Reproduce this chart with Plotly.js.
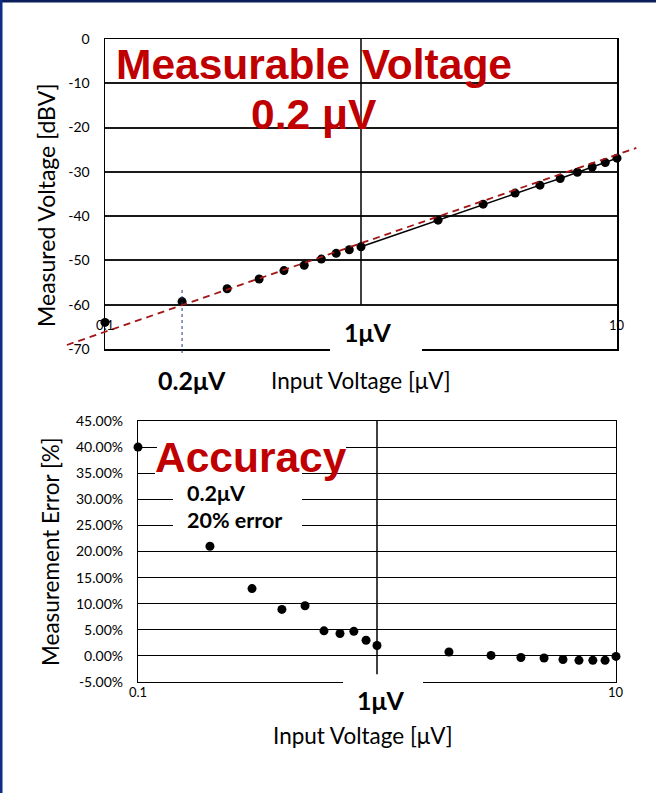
<!DOCTYPE html>
<html>
<head>
<meta charset="utf-8">
<script src="https://cdn.plot.ly/plotly-3.0.1.min.js"></script>
<style>
  html, body { margin: 0; padding: 0; background: #fff; }
  #chart { width: 656px; height: 793px; }
</style>
</head>
<body>
<div id="chart"></div>
<script>
// ---------- data ----------
const inputVoltage = [0.1, 0.2, 0.3, 0.4, 0.5, 0.6, 0.7, 0.8, 0.9, 1, 2, 3, 4, 5, 6, 7, 8, 9, 10];
const measuredDBV = [-64.0, -59.3, -56.4, -54.2, -52.3, -51.1, -49.7, -48.4, -47.6, -46.9,
                     -40.9, -37.3, -34.8, -33.0, -31.5, -30.1, -28.9, -27.9, -26.9];
const errorPct = [40.0, 21.0, 12.9, 8.9, 9.6, 4.8, 4.3, 4.7, 3.0, 2.0,
                  0.75, 0.1, -0.3, -0.4, -0.7, -0.85, -0.85, -0.85, -0.1];
const trendX = [0.071, 11.9];
const trendY = [-69.1, -24.6];
const dbvTicks = [0, -10, -20, -30, -40, -50, -60, -70];
const dbvTickText = ['0', '-10', '-20', '-30', '-40', '-50', '-60', '-70'];
const errTicks = [-5, 0, 5, 10, 15, 20, 25, 30, 35, 40, 45];
const errTickText = ['-5.00%', '0.00%', '5.00%', '10.00%', '15.00%', '20.00%', '25.00%',
                     '30.00%', '35.00%', '40.00%', '45.00%'];
const xTickVals = [0.1, 10];
const xTickText = ['0.1', '10'];

// ---------- geometry helpers ----------
const W = 656, H = 793;
const px = v => v / W;
const py = v => 1 - v / H;
const RED = '#c00000';
const FONT = 'Lato, "Open Sans", sans-serif';
const ARIAL = '"Liberation Sans", Arial, sans-serif';

// top plot area (pixels)
const T = { l: 105, r: 617, t: 39, b: 349 };
// bottom plot area (pixels)
const B = { l: 138, r: 616, t: 421, b: 682 };
const pxPerDecade = (T.r - T.l) / 2;
const pxPerUnit = (T.b - T.t) / 70;

const solidX = inputVoltage.filter(v => v >= 1);
const solidY = measuredDBV.filter((v, i) => inputVoltage[i] >= 1);

const traces = [
  { x: solidX, y: solidY, xaxis: 'x', yaxis: 'y', mode: 'lines',
    line: { color: '#000', width: 1.5 }, hoverinfo: 'skip' },
  { x: inputVoltage, y: measuredDBV, xaxis: 'x', yaxis: 'y', mode: 'markers',
    marker: { color: '#000', size: 9 }, cliponaxis: false },
  { x: trendX, y: trendY, xaxis: 'x3', yaxis: 'y3', mode: 'lines',
    line: { color: '#a31515', width: 1.8, dash: '7px,5px' }, hoverinfo: 'skip' },
  { x: inputVoltage, y: errorPct, xaxis: 'x2', yaxis: 'y2', mode: 'markers',
    marker: { color: '#000', size: 9 }, cliponaxis: false }
];

function ann(text, x, y, size, opts) {
  return Object.assign({
    text: text, x: px(x), y: py(y), xref: 'paper', yref: 'paper',
    showarrow: false, xanchor: 'center', yanchor: 'middle',
    font: { family: FONT, size: size, color: '#000' }
  }, opts || {});
}

const annotations = [
  ann('<b>Measurable Voltage</b>', 314, 64, 42.5, { font: { family: ARIAL, size: 42.5, color: RED } }),
  ann('<b>0.2 μV</b>', 314, 115, 42.5, { font: { family: ARIAL, size: 42.5, color: RED } }),
  ann('<b>1μV</b>', 368, 332, 25),
  ann('<b>0.2μV</b>', 192, 380, 25),
  ann('Input Voltage [μV]', 361, 380, 22.5),
  ann('Measured Voltage [dBV]', 46, 206, 23, { textangle: -90 }),
  ann('<b>Accuracy</b>', 251, 457, 42.5, { font: { family: ARIAL, size: 42.5, color: RED } }),
  ann('<b>0.2μV</b>', 185, 493, 21.5, { xanchor: 'left' }),
  ann('<b>20% error</b>', 185, 520, 21.5, { xanchor: 'left' }),
  ann('<b>1μV</b>', 381, 700, 25),
  ann('Input Voltage [μV]', 363, 735, 22.5),
  ann('Measurement Error [%]', 50, 552, 22.5, { textangle: -90 })
];
xTickVals.forEach((v, i) => {
  annotations.push({ text: xTickText[i], x: Math.log10(v), xref: 'x', y: py(325), yref: 'paper',
    showarrow: false, font: { family: FONT, size: 13, color: '#000' } });
  annotations.push({ text: xTickText[i], x: Math.log10(v), xref: 'x2', y: py(702), yref: 'paper',
    showarrow: false, font: { family: FONT, size: 13, color: '#000' } });
});

const logFrac = v => (Math.log10(v) + 1) / 2;
const whiteBox = (x0, y0, x1, y1) => ({ type: 'rect', xref: 'paper', yref: 'paper', layer: 'above',
  x0: px(x0), x1: px(x1), y0: py(y1), y1: py(y0), fillcolor: '#fff', line: { width: 0 } });

const shapes = [
  // 1 µV vertical line, top
  { type: 'line', xref: 'x domain', yref: 'y domain', x0: logFrac(1), x1: logFrac(1),
    y0: 10 / 70, y1: 1, line: { color: '#000', width: 1.5 } },
  // 0.2 µV dashed marker, top
  { type: 'line', xref: 'x domain', yref: 'y domain', x0: logFrac(0.2), x1: logFrac(0.2),
    y0: -0.013, y1: 0.2, line: { color: '#1f3b7a', width: 1, dash: '3px,3px' } },
  // 1 µV vertical line, bottom
  { type: 'line', xref: 'x2 domain', yref: 'y2 domain', x0: logFrac(1), x1: logFrac(1),
    y0: 1.5 / 50, y1: 1, line: { color: '#000', width: 1.5 } },
  whiteBox(330, 307, 422, 357),
  whiteBox(343, 676, 423, 720),
  whiteBox(157, 437, 346, 469),
  whiteBox(155, 469, 302, 482),
  whiteBox(173, 482, 302, 535),
  // frame edges of the slide
  { type: 'rect', xref: 'paper', yref: 'paper', layer: 'above', x0: 0, x1: 1, y0: py(2.5), y1: 1,
    fillcolor: '#0b1f5c', line: { width: 0 } },
  { type: 'rect', xref: 'paper', yref: 'paper', layer: 'above', x0: 0, x1: px(2.5), y0: 0, y1: 1,
    fillcolor: '#0d2d86', line: { width: 0 } }
];

const baseX = { type: 'log', showgrid: false, showticklabels: false, ticks: '', zeroline: false,
  showline: true, mirror: true, linecolor: '#000', linewidth: 1.5, fixedrange: true };
const baseY = { showgrid: true, gridcolor: '#1a1a1a', zeroline: false, showline: true, mirror: true,
  linecolor: '#000', linewidth: 1.5, ticks: '', ticklabelstandoff: 11, fixedrange: true,
  tickfont: { family: FONT, size: 14, color: '#000' } };

const layout = {
  width: W, height: H,
  margin: { l: 0, r: 0, t: 0, b: 0, pad: 0 },
  paper_bgcolor: '#fff', plot_bgcolor: 'rgba(0,0,0,0)',
  showlegend: false,
  xaxis: Object.assign({}, baseX, { range: [-1, 1], domain: [px(T.l), px(T.r)], anchor: 'y' }),
  yaxis: Object.assign({}, baseY, { range: [-70, 0], domain: [py(T.b), py(T.t)], anchor: 'x',
    tickvals: dbvTicks, ticktext: dbvTickText, gridwidth: 2 }),
  xaxis2: Object.assign({}, baseX, { range: [-1, 1], domain: [px(B.l), px(B.r)], anchor: 'y2', linewidth: 1.2 }),
  yaxis2: Object.assign({}, baseY, { range: [-5, 45], domain: [py(B.b), py(B.t)], anchor: 'x2',
    tickvals: errTicks, ticktext: errTickText, gridwidth: 1, gridcolor: '#000', linewidth: 1.2 }),
  xaxis3: { type: 'log', visible: false, domain: [0, 1], anchor: 'y3', fixedrange: true,
    range: [-1 - T.l / pxPerDecade, 1 + (W - T.r) / pxPerDecade] },
  yaxis3: { visible: false, domain: [py(400), 1], anchor: 'x3', fixedrange: true,
    range: [-70 - (400 - T.b) / pxPerUnit, T.t / pxPerUnit] },
  annotations: annotations,
  shapes: shapes
};

Plotly.newPlot('chart', traces, layout, { displayModeBar: false, staticPlot: true });
</script>
</body>
</html>
